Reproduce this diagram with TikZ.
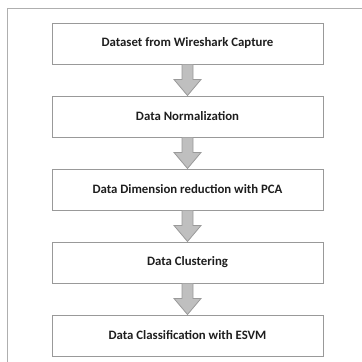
\documentclass[tikz,border=0pt]{standalone}
\usepackage{fontspec}
\setmainfont{Carlito}
\usetikzlibrary{calc}
\usetikzlibrary{positioning}

\definecolor{boxline}{HTML}{999999}
\definecolor{arrowfill}{HTML}{BFBFBF}
\definecolor{arrowline}{HTML}{9A9A9A}
\definecolor{frameline}{HTML}{AFAFAF}
\definecolor{textcol}{HTML}{1E1E1E}

\begin{document}
\begin{tikzpicture}[x=1pt, y=-1pt,
  stepbox/.style={draw=boxline, line width=1pt, minimum width=271pt,
    minimum height=41pt, inner sep=0pt, text=textcol,
    font=\bfseries\fontsize{12.8}{15}\selectfont}]
  \useasboundingbox (0,0) rectangle (362,362);
  % 外框只有上边和左边
  \draw[frameline, line width=1pt] (7,362) -- (7,8) -- (362,8);
  % 流程步骤
  \node[stepbox] (S1) at (187.5,43.5) {Dataset from Wireshark Capture};
  \node[stepbox, below=31pt of S1] (S2) {Data Normalization};
  \node[stepbox, below=31pt of S2] (S3) {Data Dimension reduction with PCA};
  \node[stepbox, below=31pt of S3] (S4) {Data Clustering};
  \node[stepbox, below=31pt of S4] (S5) {Data Classification with ESVM};
  % 块状箭头
  \foreach \a/\b in {S1/S2,S2/S3,S3/S4,S4/S5}
  {
    \draw[arrowline, fill=arrowfill, line width=0.8pt, line join=miter]
      ($(\a.south)+(-5.5,0)$) -- ($(\a.south)+(-5.5,15)$)
      -- ($(\a.south)+(-13.5,15)$) -- (\b.north)
      -- ($(\a.south)+(13.5,15)$) -- ($(\a.south)+(5.5,15)$)
      -- ($(\a.south)+(5.5,0)$);
  }
\end{tikzpicture}
\end{document}
